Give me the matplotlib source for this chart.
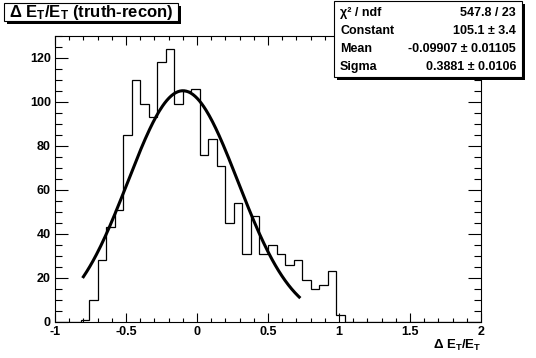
import numpy as np
import matplotlib
matplotlib.use("Agg")
from matplotlib import pyplot as plt
from matplotlib.patches import Rectangle
from matplotlib.ticker import MultipleLocator

plt.rcParams['font.family'] = ['Liberation Sans', 'DejaVu Sans']
plt.rcParams['font.weight'] = 'bold'
plt.rcParams['mathtext.fontset'] = 'custom'
plt.rcParams['mathtext.rm'] = 'Liberation Sans:bold'
plt.rcParams['mathtext.default'] = 'rm'

# histogram: 50 bins of 0.06 from -1 to 2
edges = np.linspace(-1, 2, 51)
counts = np.zeros(50)
counts[3:34] = [1, 10, 28, 43, 51, 85, 110, 99, 93, 118, 124, 99, 105, 106,
                76, 83, 71, 45, 54, 31, 48, 31, 35, 31, 26, 28, 19, 15, 17,
                23, 3]

# gaussian fit
fit_const = 105.1
fit_mean = -0.09907
fit_sigma = 0.3881
fit_range = (-0.8, 0.72)

stat_names = ["χ² / ndf", "Constant", "Mean", "Sigma"]
stat_values = ["547.8 / 23", "105.1 ± 3.4", "-0.09907 ± 0.01105",
               "0.3881 ± 0.0106"]

W, H = 536, 358
fig = plt.figure(figsize=(W / 100, H / 100), dpi=100)
ax = fig.add_axes([55 / W, 1 - 322 / H, (481 - 55) / W, (322 - 35.5) / H])

ax.stairs(counts, edges, color='black', lw=0.9)
xf = np.linspace(fit_range[0], fit_range[1], 200)
yf = fit_const * np.exp(-0.5 * ((xf - fit_mean) / fit_sigma) ** 2)
ax.plot(xf, yf, color='black', lw=2.2)

ax.set_xlim(-1, 2)
ax.set_ylim(0, counts.max() * 1.05)
ax.xaxis.set_major_locator(MultipleLocator(0.5))
ax.xaxis.set_minor_locator(MultipleLocator(0.1))
ax.yaxis.set_major_locator(MultipleLocator(20))
ax.yaxis.set_minor_locator(MultipleLocator(5))
ax.set_xticks(np.arange(-1, 2.01, 0.5))
ax.set_xticklabels(["-1", "-0.5", "0", "0.5", "1", "1.5", "2"])
ax.tick_params(axis='x', which='major', direction='in', length=6.5, width=0.8,
               top=True, labelsize=9, pad=3)
ax.tick_params(axis='x', which='minor', direction='in', length=3.2, width=0.8,
               top=True)
ax.tick_params(axis='y', which='major', direction='in', length=9.4, width=0.8,
               right=True, labelsize=9, pad=3)
ax.tick_params(axis='y', which='minor', direction='in', length=4.7, width=0.8,
               right=True)
for s in ax.spines.values():
    s.set_linewidth(0.8)

fig.text(481 / W, 1 - 345 / H, "Δ E$_{T}$/E$_{T}$", ha='right', va='center',
         fontsize=9.5, fontweight='bold')


def box(x0, y0, x1, y1, shadow=3):
    # pixel coords from top-left
    fig.add_artist(Rectangle(((x0 + shadow) / W, 1 - (y1 + shadow) / H),
                             (x1 - x0) / W, (y1 - y0) / H,
                             transform=fig.transFigure, facecolor='black',
                             edgecolor='black', lw=0, zorder=5))
    fig.add_artist(Rectangle((x0 / W, 1 - y1 / H), (x1 - x0) / W,
                             (y1 - y0) / H, transform=fig.transFigure,
                             facecolor='white', edgecolor='black', lw=0.8,
                             zorder=6))


# title box
box(4, 3, 178, 21)
fig.text(91 / W, 1 - 12 / H, "Δ E$_{T}$/E$_{T}$ (truth-recon)", ha='center',
         va='center', fontsize=12, fontweight='bold', zorder=7)

# stats box
box(334, 0.5, 522, 77)
for i, (name, val) in enumerate(zip(stat_names, stat_values)):
    yy = 1 - (13 + i * 18) / H
    fig.text(340 / W, yy, name, ha='left', va='center', fontsize=9,
             fontweight='bold', zorder=7)
    fig.text(516 / W, yy, val, ha='right', va='center', fontsize=9,
             fontweight='bold', zorder=7)

fig.savefig("out.png", dpi=100)
